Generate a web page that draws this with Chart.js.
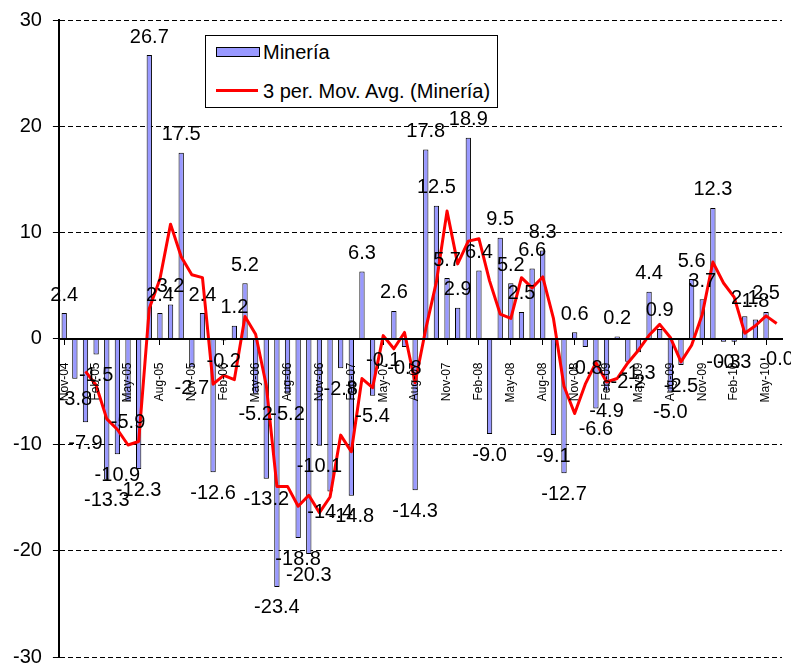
<!DOCTYPE html>
<html>
<head>
<meta charset="utf-8">
<script src="https://cdn.jsdelivr.net/npm/chart.js@4.4.1/dist/chart.umd.min.js"></script>
<style>
  html, body { margin: 0; padding: 0; background: #fff; width: 791px; height: 663px; overflow: hidden; }
  #wrap { position: relative; width: 791px; height: 663px; }
  #legend { position: absolute; left: 205px; top: 35px; width: 291px; height: 71px; border: 1px solid #000; background: #fff;
            font-family: "Liberation Sans", Arial, sans-serif; font-size: 20px; color: #000; }
  #legend .row { position: absolute; left: 0; height: 24px; line-height: 24px; white-space: nowrap; }
  #legend .sw { position: absolute; left: 10px; width: 42px; }
  #legend .txt { position: absolute; left: 57px; }
  .sw-bar { top: 7px; height: 8px; background: #9999FF; border: 1px solid #000; }
  .sw-line { top: 10px; height: 3px; background: #FF0000; }
</style>
</head>
<body>
<div id="wrap">
  <canvas id="chart" width="791" height="663"></canvas>
  <div id="legend">
    <div class="row" style="top:4px"><div class="sw sw-bar"></div><span class="txt">Minería</span></div>
    <div class="row" style="top:43px"><div class="sw sw-line"></div><span class="txt">3 per. Mov. Avg. (Minería)</span></div>
  </div>
</div>
<script>
// meses (Nov-04 .. Jun-10)
const months = [
  'Nov-04', 'Dec-04', 'Jan-05', 'Feb-05', 'Mar-05', 'Apr-05', 'May-05', 'Jun-05', 'Jul-05', 'Aug-05', 'Sep-05', 'Oct-05',
  'Nov-05', 'Dec-05', 'Jan-06', 'Feb-06', 'Mar-06', 'Apr-06', 'May-06', 'Jun-06', 'Jul-06', 'Aug-06', 'Sep-06', 'Oct-06',
  'Nov-06', 'Dec-06', 'Jan-07', 'Feb-07', 'Mar-07', 'Apr-07', 'May-07', 'Jun-07', 'Jul-07', 'Aug-07', 'Sep-07', 'Oct-07',
  'Nov-07', 'Dec-07', 'Jan-08', 'Feb-08', 'Mar-08', 'Apr-08', 'May-08', 'Jun-08', 'Jul-08', 'Aug-08', 'Sep-08', 'Oct-08',
  'Nov-08', 'Dec-08', 'Jan-09', 'Feb-09', 'Mar-09', 'Apr-09', 'May-09', 'Jun-09', 'Jul-09', 'Aug-09', 'Sep-09', 'Oct-09',
  'Nov-09', 'Dec-09', 'Jan-10', 'Feb-10', 'Mar-10', 'Apr-10', 'May-10', 'Jun-10'
];

// Minería, variación mensual
const mineria = [
  2.4, -3.8, -7.9, -1.5, -13.3, -10.9, -5.9, -12.3, 26.7, 2.4, 3.2, 17.5,
  -2.7, 2.4, -12.6, -0.2, 1.2, 5.2, -5.2, -13.2, -23.4, -5.2, -18.8, -20.3,
  -10.1, -14.4, -2.8, -14.8, 6.3, -5.4, -0.1, 2.6, -0.8, -14.3, 17.8, 12.5,
  5.7, 2.9, 18.9, 6.4, -9.0, 9.5, 5.2, 2.5, 6.6, 8.3, -9.1, -12.7,
  0.6, -0.8, -6.6, -4.9, 0.2, -2.2, -1.3, 4.4, 0.9, -5.0, -2.5, 5.6,
  3.7, 12.3, -0.3, -0.3, 2.1, 1.8, 2.5, -0.04
];

// media móvil de 3 periodos
const movAvg = [
  null, null, -3.1, -4.4, -7.57, -8.57, -10.03, -9.7, 2.83, 5.6, 10.77, 7.7,
  6.0, 5.73, -4.3, -3.47, -3.87, 2.07, 0.4, -4.4, -13.93, -13.93, -15.8, -14.77,
  -16.4, -14.93, -9.1, -10.67, -3.77, -4.63, 0.27, -0.97, 0.57, -4.17, 0.9, 5.33,
  12.0, 7.03, 9.17, 9.4, 5.43, 2.3, 1.9, 5.73, 4.77, 5.8, 1.93, -4.5,
  -7.07, -4.3, -2.27, -4.1, -3.77, -2.3, -1.1, 0.3, 1.33, 0.1, -2.2, -0.63,
  2.27, 7.2, 5.23, 3.9, 0.5, 1.2, 2.13, 1.42
];

const yTicks = [-30, -20, -10, 0, 10, 20, 30];

const FONT = '"Liberation Sans", Arial, sans-serif';

// etiquetas de datos encima / debajo de cada barra
const barLabels = {
  id: 'barLabels',
  afterDraw(chart) {
    const ctx = chart.ctx;
    const meta = chart.getDatasetMeta(0);
    ctx.save();
    ctx.font = '20px ' + FONT;
    ctx.fillStyle = '#000';
    ctx.textAlign = 'center';
    ctx.textBaseline = 'middle';
    meta.data.forEach((bar, i) => {
      const v = mineria[i];
      const y = v >= 0 ? bar.y - 18 : bar.y + 21;
      ctx.fillText(v.toFixed(1), bar.x, y);
    });
    ctx.restore();
  }
};

// sin márgenes extra de las escalas, el área la fija layout.padding
const noPad = s => { s.paddingLeft = 0; s.paddingRight = 0; s.paddingTop = 0; s.paddingBottom = 0; };

new Chart(document.getElementById('chart'), {
  type: 'bar',
  data: {
    labels: months,
    datasets: [
      {
        label: 'Minería',
        data: mineria,
        backgroundColor: '#9999FF',
        borderColor: '#000',
        borderWidth: 1,
        barPercentage: 0.5,
        categoryPercentage: 1.0,
        order: 2
      },
      {
        type: 'line',
        label: '3 per. Mov. Avg. (Minería)',
        data: movAvg,
        borderColor: '#FF0000',
        borderWidth: 3,
        pointRadius: 0,
        fill: false,
        tension: 0,
        borderJoinStyle: 'round',
        order: 1
      }
    ]
  },
  options: {
    responsive: false,
    animation: false,
    layout: { padding: { left: 2, right: 9, top: 20, bottom: 6 } },
    plugins: { legend: { display: false }, tooltip: { enabled: false } },
    scales: {
      x: {
        position: { y: 0 },
        offset: true,
        afterFit: noPad,
        grid: {
          drawOnChartArea: false,
          drawTicks: true,
          tickLength: 5,
          offset: false,
          tickColor: c => (c.index % 3 === 0 ? '#000' : 'rgba(0,0,0,0)')
        },
        border: { display: true, color: '#000', width: 2, z: 1 },
        ticks: {
          autoSkip: false,
          minRotation: 90,
          maxRotation: 90,
          padding: 19,
          z: 1,
          color: '#000',
          font: { family: FONT, size: 12 },
          callback: (value, index) => (index % 3 === 0 ? months[index] : '')
        }
      },
      y: {
        min: -30,
        max: 30,
        afterFit: noPad,
        afterBuildTicks: s => { s.ticks = yTicks.map(v => ({ value: v })); },
        grid: { color: '#000', lineWidth: 1, tickLength: 6, tickColor: '#000' },
        border: { display: true, color: '#000', width: 2, dash: [5, 3] },
        ticks: { padding: 11, color: '#000', font: { family: FONT, size: 20 } }
      }
    }
  },
  plugins: [barLabels]
});
</script>
</body>
</html>
